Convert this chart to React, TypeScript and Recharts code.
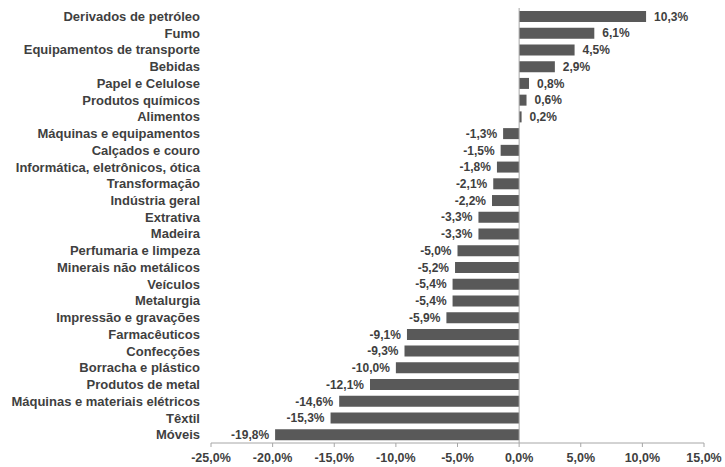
import { BarChart, Bar, XAxis, YAxis, ReferenceLine, LabelList } from "recharts";

const sectors = [
  "Derivados de petróleo",
  "Fumo",
  "Equipamentos de transporte",
  "Bebidas",
  "Papel e Celulose",
  "Produtos químicos",
  "Alimentos",
  "Máquinas e equipamentos",
  "Calçados e couro",
  "Informática, eletrônicos, ótica",
  "Transformação",
  "Indústria geral",
  "Extrativa",
  "Madeira",
  "Perfumaria e limpeza",
  "Minerais não metálicos",
  "Veículos",
  "Metalurgia",
  "Impressão e gravações",
  "Farmacêuticos",
  "Confecções",
  "Borracha e plástico",
  "Produtos de metal",
  "Máquinas e materiais elétricos",
  "Têxtil",
  "Móveis",
];

const changes = [
  10.3, 6.1, 4.5, 2.9, 0.8, 0.6, 0.2, -1.3, -1.5, -1.8, -2.1, -2.2, -3.3, -3.3,
  -5.0, -5.2, -5.4, -5.4, -5.9, -9.1, -9.3, -10.0, -12.1, -14.6, -15.3, -19.8,
];

const xTicks = [-25, -20, -15, -10, -5, 0, 5, 10, 15];

const data = sectors.map((name, i) => ({ name, value: changes[i] }));

const TEXT = "#3f3f3f";
const BAR = "#595959";
const FONT = "'Liberation Sans', Arial, sans-serif";

const pct = (v: number) => v.toFixed(1).replace(".", ",") + "%";

const ValueLabel = (props: any) => {
  const { x, y, width, height, value } = props;
  const end = Number(x) + Number(width);
  const neg = value < 0;
  return (
    <text
      x={neg ? end - 6 : end + 8}
      y={Number(y) + Number(height) / 2}
      dy="0.35em"
      textAnchor={neg ? "end" : "start"}
      fill={TEXT}
      fontSize={12}
      fontWeight="bold"
      fontFamily={FONT}
    >
      {pct(value)}
    </text>
  );
};

export default function App() {
  return (
    <div style={{ position: "absolute", left: 0, top: 0, background: "#fff" }}>
      <BarChart
        width={725}
        height={467}
        data={data}
        layout="vertical"
        margin={{ top: 8, right: 21, bottom: 0, left: 0 }}
        barSize={11}
      >
        <XAxis
          type="number"
          domain={[-25, 15]}
          ticks={xTicks}
          tickFormatter={pct}
          stroke="#a6a6a6"
          tickSize={4}
          tickMargin={6}
          height={24}
          interval={0}
          tick={{ fill: TEXT, fontSize: 12.5, fontWeight: "bold", fontFamily: FONT }}
        />
        <YAxis
          type="category"
          dataKey="name"
          width={211}
          axisLine={false}
          tickLine={false}
          tickSize={6}
          tickMargin={5}
          interval={0}
          tick={{ fill: TEXT, fontSize: 13, fontWeight: "bold", fontFamily: FONT }}
        />
        <ReferenceLine x={0} stroke="#a6a6a6" />
        <Bar dataKey="value" fill={BAR} isAnimationActive={false}>
          <LabelList dataKey="value" content={ValueLabel} />
        </Bar>
      </BarChart>
    </div>
  );
}
